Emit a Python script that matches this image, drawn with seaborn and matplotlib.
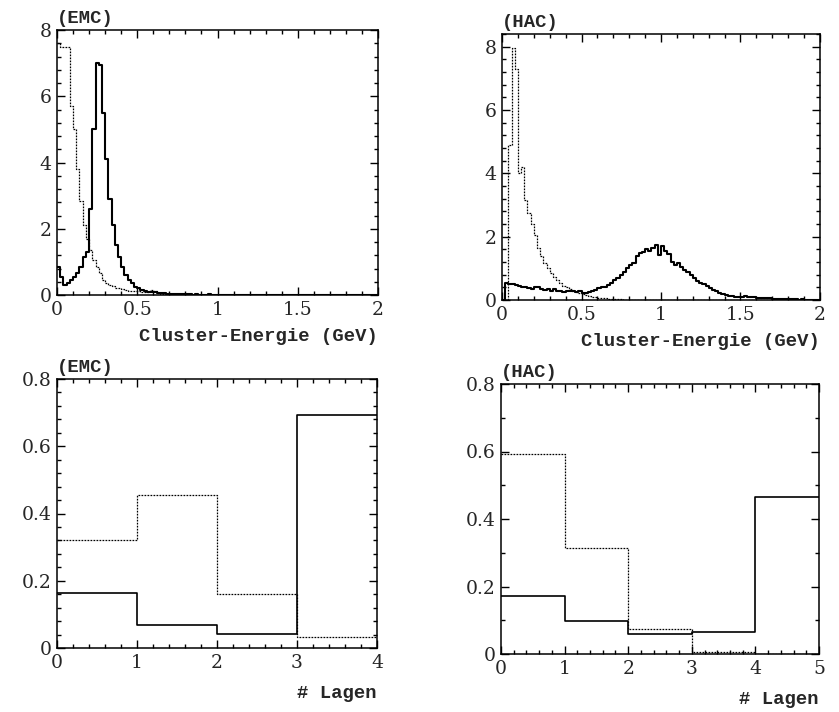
import numpy as np
import pandas as pd
import matplotlib
matplotlib.use("Agg")
import matplotlib.pyplot as plt
from matplotlib.ticker import MultipleLocator, FuncFormatter
import seaborn as sns

# Cluster energy spectra, 100 bins of 0.02 GeV from 0 to 2 GeV
energy_edges = [round(0.02 * i, 2) for i in range(101)]

emc_energy_solid = [
    0.86, 0.55, 0.30, 0.35, 0.45, 0.55, 0.65, 0.86, 1.16, 1.31,
    2.60, 5.00, 7.00, 6.95, 5.50, 4.10, 2.90, 2.10, 1.50, 1.16,
    0.86, 0.60, 0.45, 0.35, 0.25, 0.20, 0.15, 0.12, 0.10, 0.10,
    0.09, 0.07, 0.05, 0.05, 0.04, 0.04, 0.03, 0.03, 0.02, 0.03,
    0.02, 0.02, 0.01, 0.02, 0.01, 0.01, 0.01, 0.02, 0.01, 0.01,
    0.01, 0.01, 0.00, 0.01, 0.01, 0.00, 0.01, 0.00, 0.00, 0.01,
] + [0.0] * 40

emc_energy_dashed = [
    7.60, 7.50, 7.50, 7.50, 5.70, 5.00, 3.80, 2.85, 2.10, 1.70,
    1.35, 1.06, 0.86, 0.65, 0.45, 0.35, 0.30, 0.27, 0.22, 0.20,
    0.18, 0.15, 0.13, 0.13, 0.12, 0.12, 0.10, 0.10, 0.10, 0.14,
    0.12, 0.06, 0.04, 0.03, 0.02, 0.02, 0.01, 0.01, 0.00, 0.01,
] + [0.0] * 60

hac_energy_solid = [
    0.00, 0.55, 0.52, 0.50, 0.48, 0.45, 0.42, 0.40, 0.38, 0.36,
    0.40, 0.42, 0.36, 0.33, 0.35, 0.30, 0.34, 0.28, 0.30, 0.26,
    0.28, 0.27, 0.28, 0.24, 0.30, 0.21, 0.22, 0.26, 0.27, 0.32,
    0.37, 0.40, 0.42, 0.48, 0.55, 0.62, 0.70, 0.78, 0.90, 1.00,
    1.10, 1.16, 1.38, 1.48, 1.53, 1.60, 1.56, 1.64, 1.75, 1.42,
    1.69, 1.55, 1.45, 1.20, 1.12, 1.16, 1.05, 0.95, 0.90, 0.80,
    0.68, 0.60, 0.55, 0.50, 0.44, 0.38, 0.33, 0.28, 0.23, 0.20,
    0.16, 0.14, 0.12, 0.11, 0.10, 0.10, 0.12, 0.11, 0.08, 0.09,
    0.07, 0.06, 0.07, 0.05, 0.05, 0.04, 0.04, 0.03, 0.04, 0.03,
    0.02, 0.03, 0.02, 0.01, 0.02, 0.01, 0.01, 0.01, 0.00, 0.00,
]

hac_energy_dashed = [
    0.00, 0.00, 4.90, 7.95, 7.30, 4.00, 4.20, 3.15, 2.75, 2.40,
    2.05, 1.65, 1.38, 1.16, 1.00, 0.85, 0.74, 0.63, 0.53, 0.45,
    0.40, 0.36, 0.30, 0.26, 0.22, 0.18, 0.15, 0.12, 0.10, 0.08,
    0.07, 0.06, 0.05, 0.04, 0.03, 0.03, 0.02, 0.02, 0.01, 0.01,
] + [0.0] * 60

# Fraction of clusters per number of layers
emc_layer_edges = [0, 1, 2, 3, 4]
emc_layers_solid = [0.165, 0.068, 0.042, 0.693]
emc_layers_dashed = [0.322, 0.455, 0.161, 0.032]

hac_layer_edges = [0, 1, 2, 3, 4, 5]
hac_layers_solid = [0.172, 0.098, 0.059, 0.066, 0.464]
hac_layers_dashed = [0.592, 0.313, 0.073, 0.007, 0.0]

sns.set_style("ticks")
plt.rcParams["font.family"] = ["DejaVu Serif"]
plt.rcParams["axes.linewidth"] = 1.1

LABEL_FONT = dict(family=["Liberation Mono", "DejaVu Sans Mono"],
                  weight="bold", size=13.6)

W, H = 839, 712
fig = plt.figure(figsize=(W / 100, H / 100), dpi=100)


def box(x0, y0, x1, y1):
    return [x0 / W, 1 - y1 / H, (x1 - x0) / W, (y1 - y0) / H]


ax_tl = fig.add_axes(box(57, 30, 378, 295))
ax_tr = fig.add_axes(box(502, 34, 820, 300))
ax_bl = fig.add_axes(box(57, 379, 377, 648))
ax_br = fig.add_axes(box(501, 384, 819, 654))

solid_kw = dict(linestyle="-", linewidth=1.5)
dashed_kw = dict(linestyle=(0, (1.4, 1.0)), linewidth=0.9)


def step_hist(ax, edges, values, style):
    e = np.asarray(edges, dtype=float)
    df = pd.DataFrame({"center": 0.5 * (e[:-1] + e[1:]),
                       "value": np.asarray(values, dtype=float)})
    sns.histplot(data=df, x="center", weights="value", bins=list(e),
                 element="step", fill=False, color="black", ax=ax, **style)


fmt = FuncFormatter(lambda v, p: f"{v:g}")


def style_axes(ax, xlim, ylim, xmaj, xmin, ymaj, ymin, title, xlabel, xlabel_off):
    ax.set_xlim(*xlim)
    ax.set_ylim(*ylim)
    ax.xaxis.set_major_locator(MultipleLocator(xmaj))
    ax.xaxis.set_minor_locator(MultipleLocator(xmin))
    ax.yaxis.set_major_locator(MultipleLocator(ymaj))
    ax.yaxis.set_minor_locator(MultipleLocator(ymin))
    ax.xaxis.set_major_formatter(fmt)
    ax.yaxis.set_major_formatter(fmt)
    ax.tick_params(which="both", direction="in", top=True, right=True,
                   color="black", width=1.0)
    ax.tick_params(which="major", length=6, pad=4, labelsize=13.5)
    ax.tick_params(which="minor", length=3)
    for s in ax.spines.values():
        s.set_visible(True)
        s.set_color("black")
    ax.set_xlabel("")
    ax.set_ylabel("")
    ax.annotate(title, xy=(0.0, 1.0), xycoords="axes fraction",
                xytext=(0, 2), textcoords="offset points",
                ha="left", va="bottom", **LABEL_FONT)
    ax.annotate(xlabel, xy=(1.0, 0.0), xycoords="axes fraction",
                xytext=(0, -xlabel_off), textcoords="offset points",
                ha="right", va="center", **LABEL_FONT)


step_hist(ax_tl, energy_edges, emc_energy_solid, solid_kw)
step_hist(ax_tl, energy_edges, emc_energy_dashed, dashed_kw)
style_axes(ax_tl, (0, 2), (0, 8), 0.5, 0.1, 2, 0.4, "(EMC)",
           "Cluster-Energie (GeV)", 30)

step_hist(ax_tr, energy_edges, hac_energy_solid, solid_kw)
step_hist(ax_tr, energy_edges, hac_energy_dashed, dashed_kw)
style_axes(ax_tr, (0, 2), (0, 8.4), 0.5, 0.1, 2, 0.4, "(HAC)",
           "Cluster-Energie (GeV)", 30)

thin_solid = dict(linestyle="-", linewidth=1.2)
step_hist(ax_bl, emc_layer_edges, emc_layers_solid, thin_solid)
step_hist(ax_bl, emc_layer_edges, emc_layers_dashed, dashed_kw)
style_axes(ax_bl, (0, 4), (0, 0.8), 1, 0.2, 0.2, 0.04, "(EMC)",
           "# Lagen", 33)

step_hist(ax_br, hac_layer_edges, hac_layers_solid, thin_solid)
step_hist(ax_br, hac_layer_edges, hac_layers_dashed, dashed_kw)
style_axes(ax_br, (0, 5), (0, 0.8), 1, 0.2, 0.2, 0.1, "(HAC)",
           "# Lagen", 33)

fig.savefig("out.png", dpi=100, facecolor="white")
